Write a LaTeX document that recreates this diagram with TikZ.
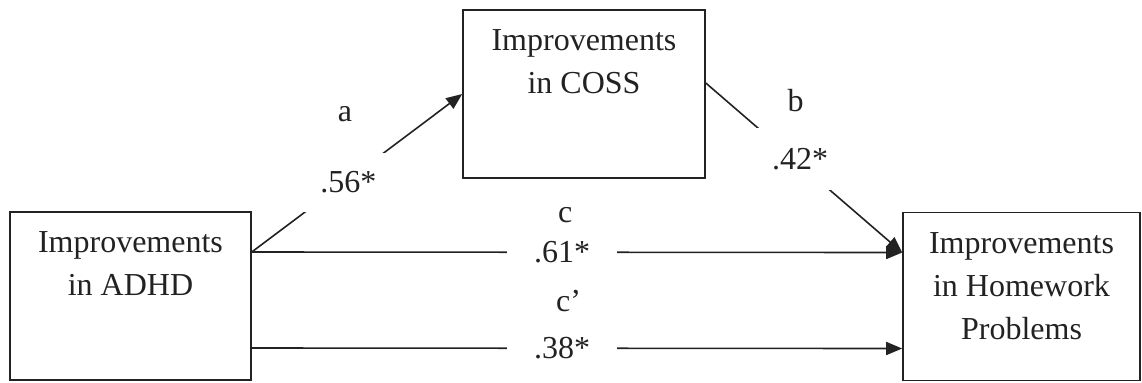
\documentclass[tikz,border=0pt]{standalone}
\usepackage{fontspec}
\setmainfont{Liberation Serif}
\usetikzlibrary{arrows.meta, positioning}
\definecolor{lnblack}{HTML}{222222}

\begin{document}
\begin{tikzpicture}[
    x=0.5pt, y=-0.5pt,
    box/.style={rectangle, draw=lnblack, line width=0.8pt, inner sep=0pt},
    boxtext/.style={align=center, inner sep=0pt, text=lnblack,
                    font=\fontsize{16}{21.5}\selectfont},
    coef/.style={fill=white, text=lnblack, font=\fontsize{16}{19}\selectfont},
    path/.style={inner sep=0pt, text=lnblack, font=\fontsize{16}{19}\selectfont},
    arrow/.style={-{Triangle[length=8pt, width=6.5pt]}, line width=0.8pt, lnblack}
  ]
    \useasboundingbox (0,0) rectangle (1142,382);

    \node[box, minimum width=120.5pt, minimum height=84pt] (adhd) at (130.5,296) {};
    \node[box, minimum width=121pt, minimum height=84pt] (coss) at (584,94) {};
    \node[box, minimum width=118.5pt, minimum height=84pt] (hw) at (1021.5,296.5) {};

    \node[boxtext, below=10pt of adhd.north] (adhdtxt) {Improvements\\in ADHD};
    \node[boxtext, below=10pt of coss.north] (cosstxt) {Improvements\\in COSS};
    \node[boxtext, below=10pt of hw.north] (hwtxt) {Improvements\\in Homework\\Problems};

    % a and b paths
    \draw[arrow] ([yshift=22pt]adhd.east) -- (coss.west)
      node[coef, pos=0.44, xshift=2pt, inner xsep=10pt, inner ysep=9.5pt] (ca) {.56*}
      node[path, pos=0.443, above=29.5pt] (la) {a};
    \draw[arrow] ([yshift=5.5pt]coss.east) -- ([yshift=22pt]hw.west)
      node[coef, pos=0.45, xshift=3pt, inner xsep=10pt, inner ysep=10pt] (cb) {.42*}
      node[path, pos=0.457, above=24pt] (lb) {b};

    % c and c' paths
    \draw[arrow] ([yshift=22pt]adhd.east) -- ([yshift=22pt]hw.west)
      node[coef, pos=0.477, inner xsep=13.5pt, inner ysep=2pt] (cc) {.61*}
      node[path, pos=0.482, above=14.5pt] (lc) {c};
    \draw[arrow] ([yshift=-26pt]adhd.east) -- ([yshift=-26pt]hw.west)
      node[coef, pos=0.477, inner xsep=13.5pt, inner ysep=2pt] (ccp) {.38*}
      node[path, pos=0.487, above=18pt] (lcp) {c’};
\end{tikzpicture}
\end{document}
